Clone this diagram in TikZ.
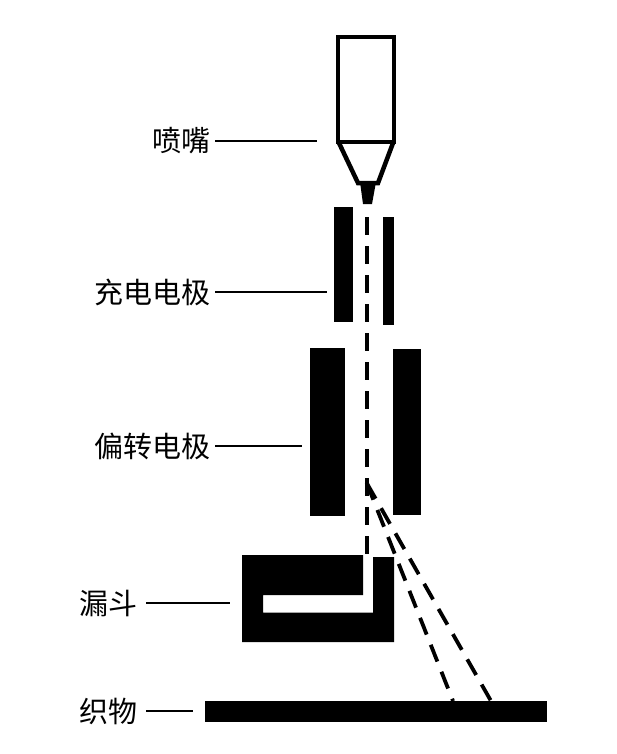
\documentclass[tikz,border=0pt]{standalone}
\usepackage{fontspec}
\newfontfamily\cjk{Noto Sans CJK SC}
\tikzset{
  bar/.style={rectangle, fill=black, draw=none, inner sep=0pt},
  lbl/.style={anchor=east, inner sep=0pt, font=\cjk\fontsize{29}{29}\selectfont},
  leader/.style={line width=1.3pt, shorten <=5pt},
  jet/.style={line width=3.8pt, dash pattern=on 18pt off 11pt},
}
\begin{document}
\begin{tikzpicture}[x=1pt,y=-1pt]
\useasboundingbox (0,0) rectangle (616,754);
% nozzle
\node [rectangle, draw=black, line width=4.5pt, minimum width=56pt, minimum height=105pt, inner sep=0pt] (nozzle) at (366,89.5) {};
\draw [line width=4.5pt] (339,143) -- (358,183) -- (378,183) -- (393,143);
\fill (360,182) -- (376,182) -- (372,204) -- (363,204) -- cycle;
% plates
\node [bar, minimum width=19pt, minimum height=115pt] (chargeL) at (343.5,264.5) {};
\node [bar, minimum width=11pt, minimum height=108pt] (chargeR) at (388.5,271) {};
\node [bar, minimum width=35pt, minimum height=168pt] (deflectL) at (327.5,432) {};
\node [bar, minimum width=28pt, minimum height=166pt] (deflectR) at (407,432) {};
% funnel and cloth
\fill (242,555) -- (363,555) -- (363,595) -- (263,595) -- (263,612.5) -- (373,612.5) -- (373,557) -- (394,557) -- (394,642) -- (242,642) -- cycle;
\coordinate (funnel) at (242,603);
\node [bar, minimum width=342pt, minimum height=21pt] (cloth) at (376,711.5) {};
% droplets
\coordinate (jetTop) at (366.7,217);
\coordinate (jetEnd) at (366.7,558);
\coordinate (split) at (366.7,483);
\coordinate (hitA) at (453,701);
\coordinate (hitB) at (491,701);
\draw [jet] (jetTop) -- (jetEnd);
\draw [jet] (split) -- (hitA);
\draw [jet] (split) -- (hitB);
% labels
\node [lbl] (nozzleText) at (211,141) {喷嘴};
\node [lbl] (chargeText) at (211,292) {充电电极};
\node [lbl] (deflectText) at (211,446) {偏转电极};
\node [lbl] (funnelText) at (138,603) {漏斗};
\node [lbl] (clothText) at (138,711) {织物};
\draw [leader, shorten <=4pt, shorten >=19pt] (nozzleText) -- (nozzleText -| nozzle.west);
\draw [leader, shorten <=4pt, shorten >=7pt] (chargeText) -- (chargeText -| chargeL.west);
\draw [leader, shorten <=4pt, shorten >=8pt] (deflectText) -- (deflectText -| deflectL.west);
\draw [leader, shorten <=8pt, shorten >=12pt] (funnelText) -- (funnel);
\draw [leader, shorten <=8pt, shorten >=12pt] (clothText) -- (clothText -| cloth.west);
\end{tikzpicture}
\end{document}
